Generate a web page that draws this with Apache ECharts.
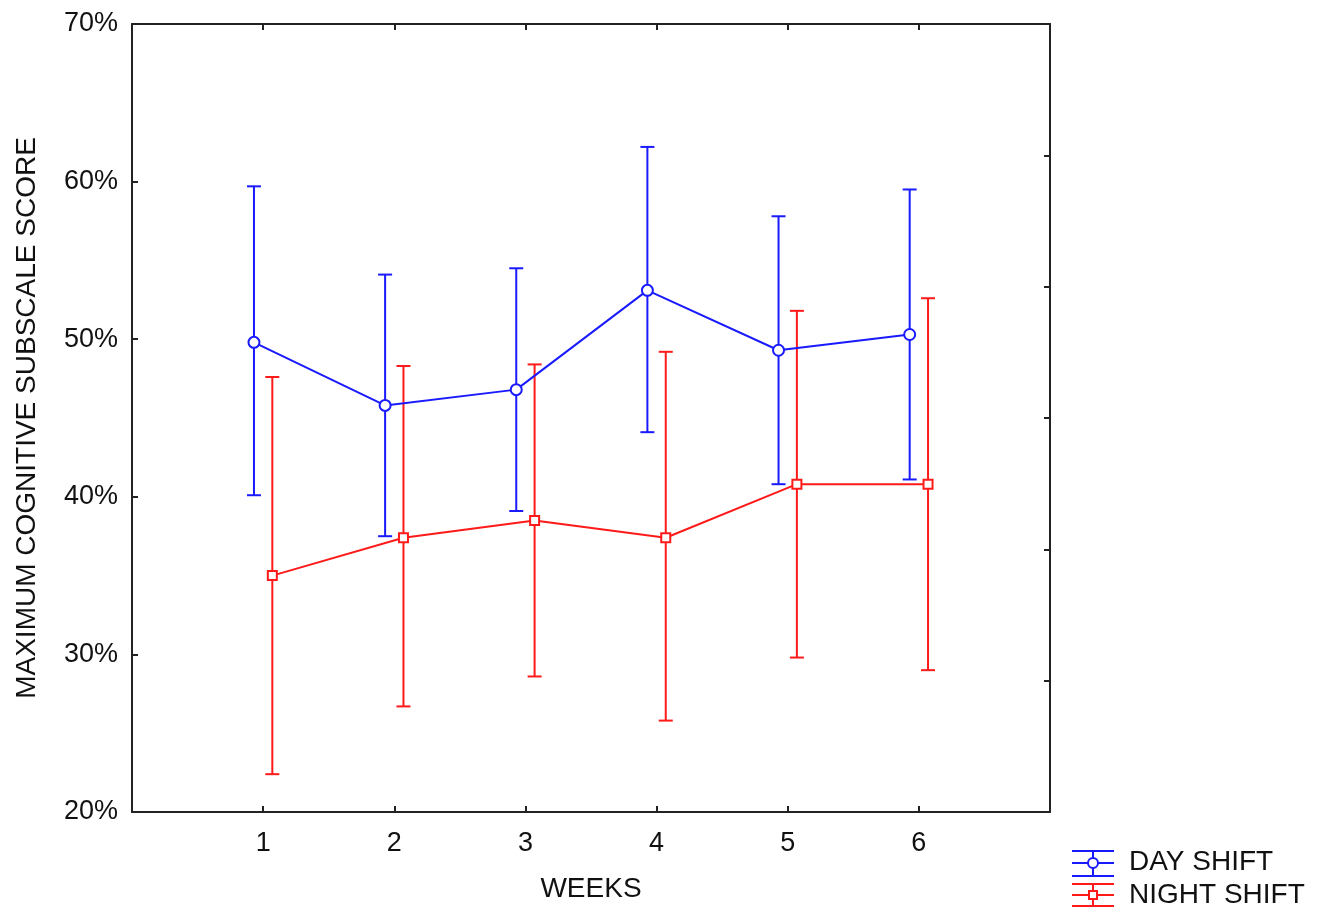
<!DOCTYPE html>
<html>
<head>
<meta charset="utf-8">
<script src="https://cdn.jsdelivr.net/npm/echarts@6/dist/echarts.min.js"></script>
<style>
  html, body { margin: 0; padding: 0; background: #fff; }
  #chart { width: 1322px; height: 908px; }
</style>
</head>
<body>
<div id="chart"></div>
<script>
// data
var weeks = [1, 2, 3, 4, 5, 6];
var dayMean = [49.8, 45.8, 46.8, 53.1, 49.3, 50.3];
var dayLow = [40.1, 37.5, 39.1, 44.1, 40.8, 41.1];
var dayHigh = [59.7, 54.1, 54.5, 62.2, 57.8, 59.5];
var nightMean = [35.0, 37.4, 38.5, 37.4, 40.8, 40.8];
var nightLow = [22.4, 26.7, 28.6, 25.8, 29.8, 29.0];
var nightHigh = [47.6, 48.3, 48.4, 49.2, 51.8, 52.6];
var yTicks = [20, 30, 40, 50, 60, 70];

var BLUE = '#1a1aff';
var RED = '#ff1a1a';
var AXIS = '#222';
var FONT = '"Liberation Sans", Arial, sans-serif';
var shift = 0.07; // horizontal spread of the two groups

function pts(mean, d) {
	var out = [];
	for (var i = 0; i < weeks.length; i++) out.push([weeks[i] + d, mean[i]]);
	return out;
}
function bars(low, high, d) {
	var out = [];
	for (var i = 0; i < weeks.length; i++) out.push([weeks[i] + d, low[i], high[i]]);
	return out;
}
function errRender(color) {
	return function(params, api) {
		var x = api.value(0);
		var lo = api.coord([x, api.value(1)]);
		var hi = api.coord([x, api.value(2)]);
		var cw = 7;
		var st = { stroke: color, lineWidth: 2 };
		return {
			type: 'group',
			children: [
				{ type: 'line', shape: { x1: lo[0], y1: lo[1], x2: hi[0], y2: hi[1] }, style: st },
				{ type: 'line', shape: { x1: hi[0] - cw, y1: hi[1], x2: hi[0] + cw, y2: hi[1] }, style: st },
				{ type: 'line', shape: { x1: lo[0] - cw, y1: lo[1], x2: lo[0] + cw, y2: lo[1] }, style: st }
			]
		};
	};
}

var chart = echarts.init(document.getElementById('chart'));
var axisLine = { show: true, onZero: false, lineStyle: { color: AXIS, width: 2 } };
var tick = { show: true, inside: true, length: 6, lineStyle: { color: AXIS, width: 2 } };

var option = {
	animation: false,
	backgroundColor: '#fff',
	textStyle: { fontFamily: FONT },
	grid: { left: 132, width: 918, top: 24, height: 792 },
	xAxis: [{
		type: 'value', min: 0, max: 7, interval: 1,
		name: 'WEEKS', nameLocation: 'middle', nameGap: 63,
		nameTextStyle: { fontSize: 28, color: '#111', fontFamily: FONT },
		axisLine: axisLine,
		axisTick: tick,
		axisLabel: {
			fontSize: 27, color: '#111', margin: 18, fontFamily: FONT,
			formatter: function(v) { return (v >= 1 && v <= 6) ? String(v) : ''; }
		},
		splitLine: { show: false }
	}, {
		type: 'value', position: 'top', min: 0, max: 7, interval: 1,
		axisLine: axisLine,
		axisTick: tick,
		axisLabel: { show: false },
		splitLine: { show: false }
	}],
	yAxis: [{
		type: 'value', position: 'left', min: yTicks[0], max: yTicks[yTicks.length - 1], interval: 10,
		name: 'MAXIMUM COGNITIVE SUBSCALE SCORE', nameLocation: 'middle', nameGap: 91, nameRotate: 90,
		nameTextStyle: { fontSize: 28, color: '#111', fontFamily: FONT },
		axisLine: axisLine,
		axisTick: tick,
		axisLabel: { fontSize: 27, color: '#111', margin: 14, fontFamily: FONT, formatter: '{value}%' },
		splitLine: { show: false }
	}, {
		type: 'value', position: 'right', min: 0, max: 6, interval: 1,
		axisLine: axisLine,
		axisTick: tick,
		axisLabel: { show: false },
		splitLine: { show: false }
	}],
	series: [{
		name: 'DAY SHIFT err', type: 'custom', renderItem: errRender(BLUE),
		data: bars(dayLow, dayHigh, -shift), z: 2
	}, {
		name: 'NIGHT SHIFT err', type: 'custom', renderItem: errRender(RED),
		data: bars(nightLow, nightHigh, shift), z: 2
	}, {
		name: 'DAY SHIFT', type: 'line', data: pts(dayMean, -shift),
		symbol: 'circle', symbolSize: 11, showAllSymbol: true,
		lineStyle: { color: BLUE, width: 2 },
		itemStyle: { color: '#fff', borderColor: BLUE, borderWidth: 2 }, z: 3
	}, {
		name: 'NIGHT SHIFT', type: 'line', data: pts(nightMean, shift),
		symbol: 'rect', symbolSize: 9, showAllSymbol: true,
		lineStyle: { color: RED, width: 2 },
		itemStyle: { color: '#fff', borderColor: RED, borderWidth: 2 }, z: 3
	}],
	graphic: [
		// legend: day shift
		{ type: 'line', shape: { x1: 1072, y1: 851, x2: 1114, y2: 851 }, style: { stroke: BLUE, lineWidth: 2 } },
		{ type: 'line', shape: { x1: 1072, y1: 863, x2: 1114, y2: 863 }, style: { stroke: BLUE, lineWidth: 2 } },
		{ type: 'line', shape: { x1: 1072, y1: 876, x2: 1114, y2: 876 }, style: { stroke: BLUE, lineWidth: 2 } },
		{ type: 'line', shape: { x1: 1093, y1: 851, x2: 1093, y2: 876 }, style: { stroke: BLUE, lineWidth: 2 } },
		{ type: 'circle', shape: { cx: 1093, cy: 863, r: 5 }, style: { fill: '#fff', stroke: BLUE, lineWidth: 2 } },
		{ type: 'text', left: 1129, top: 848, style: { text: 'DAY SHIFT', font: '28px ' + FONT, fill: '#111' } },
		// legend: night shift
		{ type: 'line', shape: { x1: 1072, y1: 884, x2: 1114, y2: 884 }, style: { stroke: RED, lineWidth: 2 } },
		{ type: 'line', shape: { x1: 1072, y1: 895, x2: 1114, y2: 895 }, style: { stroke: RED, lineWidth: 2 } },
		{ type: 'line', shape: { x1: 1072, y1: 906, x2: 1114, y2: 906 }, style: { stroke: RED, lineWidth: 2 } },
		{ type: 'line', shape: { x1: 1093, y1: 884, x2: 1093, y2: 906 }, style: { stroke: RED, lineWidth: 2 } },
		{ type: 'rect', shape: { x: 1089, y: 891, width: 8, height: 8 }, style: { fill: '#fff', stroke: RED, lineWidth: 2 } },
		{ type: 'text', left: 1129, top: 881, style: { text: 'NIGHT SHIFT', font: '28px ' + FONT, fill: '#111' } }
	]
};
chart.setOption(option);
</script>
</body>
</html>
